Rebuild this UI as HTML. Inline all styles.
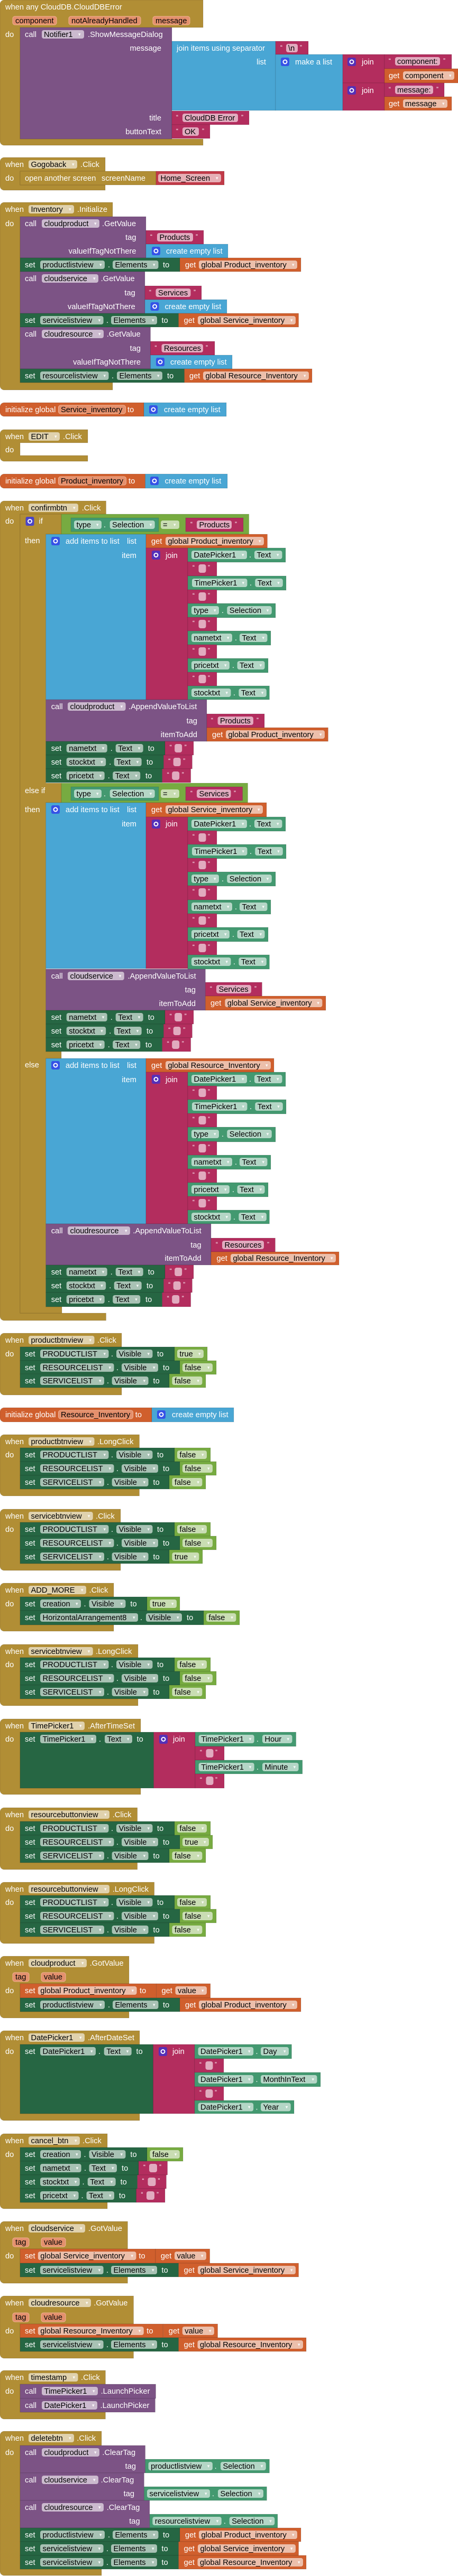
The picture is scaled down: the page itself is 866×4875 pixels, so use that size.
<!DOCTYPE html>
<html><head><meta charset="utf-8"><style>
html,body{margin:0;padding:0;background:#fff}
svg{display:block}
text{font-family:"Liberation Sans",Arial,sans-serif;font-size:14.67px;fill:#fff}
.k{fill:#000}
.q{font-size:12px}
.ar{font-size:9px;fill:#fff;opacity:.9}
.e{text-anchor:end}
.ev,.cl,.st,.gt,.tx,.ls,.vr,.lg,.sc{stroke:rgba(0,0,0,.13);stroke-width:1}
.ev{fill:#B18E35}.cl{fill:#7C5385}.st{fill:#266643}.gt{fill:#439970}.tx{fill:#B32D5E}.ls{fill:#49A6D4}.vr{fill:#D05F2D}.lg{fill:#77AB41}.sc{fill:#C13A48}
.fev{fill:#E0D2AE}.fcl{fill:#CBBACE}.fst{fill:#A8C2B4}.fgt{fill:#B4D6C6}.fvr{fill:#ECBFAB}.ftx{fill:#E1ABBF}.flg{fill:#C9DDB3}.fsc{fill:#E6AFB6}
.pm{fill:#E4906D;stroke:#F0B395;stroke-width:1}
.gl{fill:#3552E6}.gj{fill:#5530B8}.gi{fill:#4A45C8}
.gc{fill:none;stroke:#fff;stroke-width:2}
</style></head><body>
<svg xmlns="http://www.w3.org/2000/svg" width="866" height="4875" viewBox="0 0 866 4875">

<!-- ===== A: CloudDBError ===== -->
<path class="ev" d="M0 8a8 8 0 0 1 8-8H384V52H38V263H384V275H8a8 8 0 0 1-8-8Z"/>
<text x="10" y="18">when any CloudDB.CloudDBError</text>
<rect class="pm" x="24" y="31" width="83" height="16" rx="4"/><text class="k" x="29" y="44">component</text>
<rect class="pm" x="130" y="31" width="136" height="16" rx="4"/><text class="k" x="135" y="44">notAlreadyHandled</text>
<rect class="pm" x="289" y="31" width="70" height="16" rx="4"/><text class="k" x="294" y="44">message</text>
<text x="10" y="70">do</text>
<rect class="cl" x="38" y="52" width="287" height="211"/>
<text x="47" y="70">call</text>
<rect class="fcl" x="79" y="57" width="80" height="16" rx="4"/><text class="k" x="83" y="70">Notifier1</text><text class="ar" x="148" y="68">▾</text>
<text x="166" y="70">.ShowMessageDialog</text>
<text class="e" x="305" y="96">message</text>
<text class="e" x="305" y="228">title</text>
<text class="e" x="305" y="254">buttonText</text>
<rect class="ls" x="325" y="78" width="196" height="131"/>
<text x="334" y="96">join items using separator</text>
<text class="e" x="503" y="122">list</text>
<rect class="tx" x="521" y="78" width="62" height="25"/>
<text class="q" x="530" y="94">“</text><rect class="ftx" x="541" y="83" width="22" height="16" rx="4"/><text class="k" x="545" y="96">\n</text><text class="q" x="567" y="94">”</text>
<rect class="ls" x="521" y="103" width="127" height="106"/>
<rect class="gl" x="531" y="109" width="16" height="16" rx="3"/><circle class="gc" cx="539" cy="117" r="3.5"/>
<text x="558" y="122">make a list</text>
<rect class="tx" x="648" y="103" width="79" height="54"/>
<rect class="gj" x="657" y="109" width="16" height="16" rx="3"/><circle class="gc" cx="665" cy="117" r="3.5"/>
<text x="684" y="122">join</text>
<rect class="tx" x="727" y="103" width="127" height="27"/>
<text class="q" x="735" y="119">“</text><rect class="ftx" x="747" y="108" width="85" height="16" rx="4"/><text class="k" x="751" y="121">component:</text><text class="q" x="838" y="119">”</text>
<rect class="vr" x="727" y="130" width="139" height="27"/>
<text x="735" y="148">get</text><rect class="fvr" x="762" y="135" width="97" height="16" rx="4"/><text class="k" x="766" y="148">component</text><text class="ar" x="849" y="146">▾</text>
<rect class="tx" x="648" y="157" width="79" height="52"/>
<rect class="gj" x="657" y="163" width="16" height="16" rx="3"/><circle class="gc" cx="665" cy="171" r="3.5"/>
<text x="684" y="176">join</text>
<rect class="tx" x="727" y="157" width="113" height="26"/>
<text class="q" x="735" y="173">“</text><rect class="ftx" x="747" y="162" width="72" height="16" rx="4"/><text class="k" x="751" y="175">message:</text><text class="q" x="825" y="173">”</text>
<rect class="vr" x="727" y="183" width="127" height="26"/>
<text x="735" y="201">get</text><rect class="fvr" x="762" y="188" width="84" height="16" rx="4"/><text class="k" x="766" y="201">message</text><text class="ar" x="836" y="199">▾</text>
<rect class="tx" x="325" y="210" width="146" height="26"/>
<text class="q" x="333" y="226">“</text><rect class="ftx" x="345" y="215" width="105" height="16" rx="4"/><text class="k" x="349" y="228">CloudDB Error</text><text class="q" x="456" y="226">”</text>
<rect class="tx" x="325" y="236" width="72" height="26"/>
<text class="q" x="333" y="252">“</text><rect class="ftx" x="345" y="241" width="31" height="16" rx="4"/><text class="k" x="349" y="254">OK</text><text class="q" x="382" y="252">”</text>

<!-- ===== B: Gogoback ===== -->
<path class="ev" d="M0 306a8 8 0 0 1 8-8H199V324H38V350H199V360H8a8 8 0 0 1-8-8Z"/>
<text x="10" y="316">when</text>
<rect class="fev" x="54" y="303" width="92" height="16" rx="4"/><text class="k" x="58.5" y="316">Gogoback</text><text class="ar" x="136" y="314">▾</text>
<text x="152" y="316">.Click</text>
<text x="10" y="342">do</text>
<rect class="ev" x="38" y="324" width="257" height="26"/>
<text x="47" y="342">open another screen</text><text x="192" y="342">screenName</text>
<rect class="sc" x="295" y="324" width="129" height="26"/>
<rect class="fsc" x="299" y="329" width="119" height="16" rx="4"/><text class="k" x="303.5" y="342">Home_Screen</text><text class="ar" x="408" y="340">▾</text>

<!-- ===== C: Inventory.Initialize ===== -->
<path class="ev" d="M0 391a8 8 0 0 1 8-8H213V410H38V724H213V738H8a8 8 0 0 1-8-8Z"/>
<text x="10" y="401">when</text>
<rect class="fev" x="54" y="388" width="86" height="16" rx="4"/><text class="k" x="58.5" y="401">Inventory</text><text class="ar" x="130" y="399">▾</text>
<text x="146" y="401">.Initialize</text>
<text x="10" y="428">do</text>
<rect class="cl" x="38" y="410" width="238" height="78"/>
<text x="47" y="428">call</text>
<rect class="fcl" x="79" y="415" width="109" height="16" rx="4"/><text class="k" x="83.5" y="428">cloudproduct</text><text class="ar" x="178" y="426">▾</text>
<text x="193" y="428">.GetValue</text>
<text class="e" x="257.5" y="454">tag</text>
<text class="e" x="257.5" y="480">valueIfTagNotThere</text>
<rect class="tx" x="276" y="436" width="109" height="26"/>
<text class="q" x="284" y="452">“</text><rect class="ftx" x="297" y="441" width="68" height="16" rx="4"/><text class="k" x="301.5" y="454">Products</text><text class="q" x="370" y="452">”</text>
<rect class="ls" x="276" y="462" width="155" height="26"/>
<rect class="gl" x="287" y="467" width="16" height="16" rx="3"/><circle class="gc" cx="295" cy="475" r="3.5"/>
<text x="314" y="480">create empty list</text>
<g transform="translate(38,488)"><rect class="st" width="302" height="26"/><text x="9" y="18">set</text><rect class="fst" x="38" y="5" width="122" height="16" rx="4"/><text class="k" x="42.5" y="18">productlistview</text><text class="ar" x="150" y="16">▾</text><text x="166" y="18">.</text><rect class="fst" x="175" y="5" width="86.5" height="16" rx="4"/><text class="k" x="179.5" y="18">Elements</text><text class="ar" x="251" y="16">▾</text><text x="270" y="18">to</text><rect class="vr" x="302" width="229" height="26"/><text x="312" y="18">get</text><rect class="fvr" x="338" y="5" width="186" height="16" rx="4"/><text class="k" x="342.5" y="18">global Product_inventory</text><text class="ar" x="514" y="16">▾</text></g>
<rect class="cl" x="38" y="514" width="236" height="79"/>
<text x="47" y="532">call</text>
<rect class="fcl" x="79" y="519" width="107" height="16" rx="4"/><text class="k" x="83.5" y="532">cloudservice</text><text class="ar" x="176" y="530">▾</text>
<text x="190.6" y="532">.GetValue</text>
<text class="e" x="255.8" y="559">tag</text>
<text class="e" x="255.8" y="585">valueIfTagNotThere</text>
<rect class="tx" x="274" y="541" width="107" height="26"/>
<text class="q" x="282" y="557">“</text><rect class="ftx" x="294.5" y="546" width="66" height="16" rx="4"/><text class="k" x="299" y="559">Services</text><text class="q" x="366" y="557">”</text>
<rect class="ls" x="274" y="567" width="155" height="26"/>
<rect class="gl" x="284.6" y="572" width="16" height="16" rx="3"/><circle class="gc" cx="292.6" cy="580" r="3.5"/>
<text x="311.6" y="585">create empty list</text>
<g transform="translate(38,593)"><rect class="st" width="299.6" height="26"/><text x="9" y="18">set</text><rect class="fst" x="38" y="5" width="119.6" height="16" rx="4"/><text class="k" x="42.5" y="18">servicelistview</text><text class="ar" x="147.6" y="16">▾</text><text x="163" y="18">.</text><rect class="fst" x="172" y="5" width="87" height="16" rx="4"/><text class="k" x="176.5" y="18">Elements</text><text class="ar" x="249" y="16">▾</text><text x="267.5" y="18">to</text><rect class="vr" x="299.6" width="227" height="26"/><text x="309.6" y="18">get</text><rect class="fvr" x="336" y="5" width="185" height="16" rx="4"/><text class="k" x="340.5" y="18">global Service_inventory</text><text class="ar" x="511" y="16">▾</text></g>
<rect class="cl" x="38" y="619" width="246.5" height="79"/>
<text x="47" y="637">call</text>
<rect class="fcl" x="79" y="624" width="117" height="16" rx="4"/><text class="k" x="83.5" y="637">cloudresource</text><text class="ar" x="186" y="635">▾</text>
<text x="201.7" y="637">.GetValue</text>
<text class="e" x="266" y="664">tag</text>
<text class="e" x="266" y="690">valueIfTagNotThere</text>
<rect class="tx" x="284.5" y="646" width="121.5" height="26"/>
<text class="q" x="292.5" y="662">“</text><rect class="ftx" x="305.5" y="651" width="78.5" height="16" rx="4"/><text class="k" x="310" y="664">Resources</text><text class="q" x="389" y="662">”</text>
<rect class="ls" x="284.5" y="672" width="154.5" height="26"/>
<rect class="gl" x="295" y="677" width="16" height="16" rx="3"/><circle class="gc" cx="303" cy="685" r="3.5"/>
<text x="322" y="690">create empty list</text>
<g transform="translate(38,698)"><rect class="st" width="310.6" height="26"/><text x="9" y="18">set</text><rect class="fst" x="38" y="5" width="129.5" height="16" rx="4"/><text class="k" x="42.5" y="18">resourcelistview</text><text class="ar" x="157.5" y="16">▾</text><text x="173" y="18">.</text><rect class="fst" x="183" y="5" width="86" height="16" rx="4"/><text class="k" x="187.5" y="18">Elements</text><text class="ar" x="259" y="16">▾</text><text x="278" y="18">to</text><rect class="vr" x="310.6" width="241.4" height="26"/><text x="320" y="18">get</text><rect class="fvr" x="346" y="5" width="200" height="16" rx="4"/><text class="k" x="350.5" y="18">global Resource_Inventory</text><text class="ar" x="536" y="16">▾</text></g>

<!-- ===== D: init Service_inventory ===== -->
<path class="vr" d="M0 770a8 8 0 0 1 8-8H272V788H8a8 8 0 0 1-8-8Z"/>
<text x="10" y="780">initialize global</text>
<rect class="pm" x="110.5" y="767" width="127" height="16" rx="4"/><text class="k" x="115" y="780">Service_inventory</text>
<text x="241" y="780">to</text>
<rect class="ls" x="272" y="762" width="156" height="26"/>
<rect class="gl" x="282" y="767" width="16" height="16" rx="3"/><circle class="gc" cx="290" cy="775" r="3.5"/>
<text x="310" y="780">create empty list</text>

<!-- ===== E: EDIT.Click ===== -->
<path class="ev" d="M0 821a8 8 0 0 1 8-8H166V838H38V862H166V873H8a8 8 0 0 1-8-8Z"/>
<text x="10" y="831">when</text>
<rect class="fev" x="54" y="818" width="59" height="16" rx="4"/><text class="k" x="58.5" y="831">EDIT</text><text class="ar" x="103" y="829">▾</text>
<text x="119" y="831">.Click</text>
<text x="10" y="856">do</text>

<!-- ===== F: init Product_inventory ===== -->
<path class="vr" d="M0 905a8 8 0 0 1 8-8H274.6V924H8a8 8 0 0 1-8-8Z"/>
<text x="10" y="915">initialize global</text>
<rect class="pm" x="110.5" y="902" width="128" height="16" rx="4"/><text class="k" x="115" y="915">Product_inventory</text>
<text x="243" y="915">to</text>
<rect class="ls" x="274.6" y="897" width="155.4" height="27"/>
<rect class="gl" x="284" y="902" width="16" height="16" rx="3"/><circle class="gc" cx="292" cy="910" r="3.5"/>
<text x="311.6" y="915">create empty list</text>

<!-- ===== G: confirmbtn.Click ===== -->
<path class="ev" d="M0 956a8 8 0 0 1 8-8H200.5V973H38V2485H200.5V2499H8a8 8 0 0 1-8-8Z"/>
<text x="10" y="966">when</text>
<rect class="fev" x="54" y="953" width="94" height="16" rx="4"/><text class="k" x="58.5" y="966">confirmbtn</text><text class="ar" x="138" y="964">▾</text>
<text x="154.7" y="966">.Click</text>
<text x="10" y="991">do</text>
<path class="ev" d="M38 973H116V1011H86.7V1482H116V1519H86.7V1990H116V2003H86.7V2473H117V2485H38Z"/>
<rect class="gi" x="48.5" y="978" width="16" height="17" rx="3"/><circle class="gc" cx="56.5" cy="986.5" r="3.5"/>
<text x="73.5" y="991">if</text>
<rect class="lg" x="116" y="973" width="354.7" height="38"/>
<g transform="translate(134,980)"><rect class="gt" width="166" height="26"/><rect class="fgt" x="6" y="5" width="52" height="16" rx="4"/><text class="k" x="10.5" y="18">type</text><text class="ar" x="48" y="16">▾</text><text x="62" y="18">.</text><rect class="fgt" x="73.7" y="5" width="85" height="16" rx="4"/><text class="k" x="78" y="18">Selection</text><text class="ar" x="148.7" y="16">▾</text></g>
<rect class="flg" x="304" y="985" width="35" height="16" rx="4"/><text class="k" x="308" y="998">=</text><text class="ar" x="328" y="996">▾</text>
<rect class="tx" x="351" y="980" width="109" height="26"/>
<text class="q" x="360" y="996">“</text><rect class="ftx" x="372" y="985" width="66" height="16" rx="4"/><text class="k" x="376.5" y="998">Products</text><text class="q" x="444" y="996">”</text>
<text x="47" y="1028">then</text>
<rect class="ls" x="86.7" y="1011" width="189.3" height="313"/>
<rect class="gl" x="97" y="1016" width="16" height="16" rx="3"/><circle class="gc" cx="105" cy="1024" r="3.5"/>
<text x="124" y="1029">add items to list</text>
<text class="e" x="258" y="1029">list</text>
<text class="e" x="258" y="1056">item</text>
<rect class="vr" x="276" y="1011" width="229.5" height="26"/>
<text x="286" y="1029">get</text><rect class="fvr" x="313" y="1016" width="186" height="16" rx="4"/><text class="k" x="317.5" y="1029">global Product_inventory</text><text class="ar" x="489" y="1027">▾</text>
<rect class="tx" x="276" y="1037" width="79" height="287"/>
<rect class="gj" x="287" y="1042" width="16" height="17" rx="3"/><circle class="gc" cx="295" cy="1050.5" r="3.5"/>
<text x="313" y="1056">join</text>
<g transform="translate(355,1037)"><rect class="gt" width="185" height="27"/><rect class="fgt" x="7" y="5" width="105" height="16" rx="4"/><text class="k" x="11.5" y="18">DatePicker1</text><text class="ar" x="102" y="16">▾</text><text x="116" y="18">.</text><rect class="fgt" x="126" y="5" width="52.5" height="16" rx="4"/><text class="k" x="130.5" y="18">Text</text><text class="ar" x="168" y="16">▾</text></g>
<g transform="translate(355,1063)"><rect class="tx" width="55" height="27"/><text class="q" x="9" y="15">“</text><rect class="ftx" x="20.5" y="5" width="14" height="16" rx="4"/><text class="q" x="38" y="15">”</text></g>
<g transform="translate(355,1090)"><rect class="gt" width="186" height="27"/><rect class="fgt" x="8" y="5" width="104.5" height="16" rx="4"/><text class="k" x="12.5" y="18">TimePicker1</text><text class="ar" x="102.5" y="16">▾</text><text x="117" y="18">.</text><rect class="fgt" x="127.3" y="5" width="52.5" height="16" rx="4"/><text class="k" x="131.8" y="18">Text</text><text class="ar" x="169.3" y="16">▾</text></g>
<g transform="translate(355,1116)"><rect class="tx" width="55" height="27"/><text class="q" x="9" y="15">“</text><rect class="ftx" x="20.5" y="5" width="14" height="16" rx="4"/><text class="q" x="38" y="15">”</text></g>
<g transform="translate(355,1142)"><rect class="gt" width="166" height="27"/><rect class="fgt" x="7" y="5" width="52" height="16" rx="4"/><text class="k" x="11.5" y="18">type</text><text class="ar" x="49" y="16">▾</text><text x="64" y="18">.</text><rect class="fgt" x="74.3" y="5" width="84.5" height="16" rx="4"/><text class="k" x="78.8" y="18">Selection</text><text class="ar" x="148.8" y="16">▾</text></g>
<g transform="translate(355,1168)"><rect class="tx" width="55" height="27"/><text class="q" x="9" y="15">“</text><rect class="ftx" x="20.5" y="5" width="14" height="16" rx="4"/><text class="q" x="38" y="15">”</text></g>
<g transform="translate(355,1194)"><rect class="gt" width="157" height="27"/><rect class="fgt" x="7" y="5" width="77" height="16" rx="4"/><text class="k" x="11.5" y="18">nametxt</text><text class="ar" x="74" y="16">▾</text><text x="89" y="18">.</text><rect class="fgt" x="98" y="5" width="52.5" height="16" rx="4"/><text class="k" x="102.5" y="18">Text</text><text class="ar" x="140.5" y="16">▾</text></g>
<g transform="translate(355,1220)"><rect class="tx" width="55" height="27"/><text class="q" x="9" y="15">“</text><rect class="ftx" x="20.5" y="5" width="14" height="16" rx="4"/><text class="q" x="38" y="15">”</text></g>
<g transform="translate(355,1246)"><rect class="gt" width="152" height="27"/><rect class="fgt" x="7" y="5" width="72" height="16" rx="4"/><text class="k" x="11.5" y="18">pricetxt</text><text class="ar" x="69" y="16">▾</text><text x="84" y="18">.</text><rect class="fgt" x="93.6" y="5" width="52" height="16" rx="4"/><text class="k" x="98" y="18">Text</text><text class="ar" x="135.6" y="16">▾</text></g>
<g transform="translate(355,1272)"><rect class="tx" width="55" height="27"/><text class="q" x="9" y="15">“</text><rect class="ftx" x="20.5" y="5" width="14" height="16" rx="4"/><text class="q" x="38" y="15">”</text></g>
<g transform="translate(355,1298)"><rect class="gt" width="154.4" height="26"/><rect class="fgt" x="7" y="5" width="74.5" height="16" rx="4"/><text class="k" x="11.5" y="18">stocktxt</text><text class="ar" x="71.5" y="16">▾</text><text x="86" y="18">.</text><rect class="fgt" x="96.4" y="5" width="52.5" height="16" rx="4"/><text class="k" x="100.9" y="18">Text</text><text class="ar" x="138.9" y="16">▾</text></g>
<rect class="cl" x="86.7" y="1324" width="304.3" height="79"/>
<text x="96.7" y="1342">call</text>
<rect class="fcl" x="128" y="1329" width="109.6" height="16" rx="4"/><text class="k" x="132.5" y="1342">cloudproduct</text><text class="ar" x="227.6" y="1340">▾</text>
<text x="243" y="1342">.AppendValueToList</text>
<text class="e" x="373" y="1369">tag</text>
<text class="e" x="373" y="1395">itemToAdd</text>
<rect class="tx" x="391" y="1351" width="109" height="26"/>
<text class="q" x="399" y="1367">“</text><rect class="ftx" x="411.6" y="1356" width="67.4" height="16" rx="4"/><text class="k" x="416" y="1369">Products</text><text class="q" x="485" y="1367">”</text>
<rect class="vr" x="391" y="1377" width="229.4" height="26"/>
<text x="401" y="1395">get</text><rect class="fvr" x="427" y="1382" width="187" height="16" rx="4"/><text class="k" x="431.5" y="1395">global Product_inventory</text><text class="ar" x="604" y="1393">▾</text>
<g transform="translate(86.7,1403)"><rect class="st" width="225.3" height="26"/><text x="10" y="18">set</text><rect class="fst" x="39" y="5" width="77" height="16" rx="4"/><text class="k" x="43.5" y="18">nametxt</text><text class="ar" x="106" y="16">▾</text><text x="122" y="18">.</text><rect class="fst" x="132" y="5" width="52" height="16" rx="4"/><text class="k" x="136.5" y="18">Text</text><text class="ar" x="174" y="16">▾</text><text x="193" y="18">to</text><rect class="tx" x="225.3" width="54" height="26"/><text class="q" x="234" y="15">“</text><rect class="ftx" x="243.5" y="5" width="14" height="16" rx="4"/><text class="q" x="262" y="15">”</text></g>
<g transform="translate(86.7,1429)"><rect class="st" width="222.7" height="26"/><text x="10" y="18">set</text><rect class="fst" x="39" y="5" width="74.5" height="16" rx="4"/><text class="k" x="43.5" y="18">stocktxt</text><text class="ar" x="103.5" y="16">▾</text><text x="119.5" y="18">.</text><rect class="fst" x="129" y="5" width="52" height="16" rx="4"/><text class="k" x="133.5" y="18">Text</text><text class="ar" x="171" y="16">▾</text><text x="190.3" y="18">to</text><rect class="tx" x="222.7" width="54" height="26"/><text class="q" x="231.5" y="15">“</text><rect class="ftx" x="241" y="5" width="14" height="16" rx="4"/><text class="q" x="259.5" y="15">”</text></g>
<g transform="translate(86.7,1455)"><rect class="st" width="220" height="26"/><text x="10" y="18">set</text><rect class="fst" x="39" y="5" width="72" height="16" rx="4"/><text class="k" x="43.5" y="18">pricetxt</text><text class="ar" x="101" y="16">▾</text><text x="117" y="18">.</text><rect class="fst" x="126.5" y="5" width="52" height="16" rx="4"/><text class="k" x="131" y="18">Text</text><text class="ar" x="168.5" y="16">▾</text><text x="188.3" y="18">to</text><rect class="tx" x="220" width="54" height="26"/><text class="q" x="229" y="15">“</text><rect class="ftx" x="238.5" y="5" width="14" height="16" rx="4"/><text class="q" x="257" y="15">”</text></g>
<text x="47" y="1501">else if</text>
<rect class="lg" x="116" y="1482" width="352.5" height="37"/>
<g transform="translate(134,1489)"><rect class="gt" width="166" height="26"/><rect class="fgt" x="6" y="5" width="52" height="16" rx="4"/><text class="k" x="10.5" y="18">type</text><text class="ar" x="48" y="16">▾</text><text x="62" y="18">.</text><rect class="fgt" x="73.7" y="5" width="85" height="16" rx="4"/><text class="k" x="78" y="18">Selection</text><text class="ar" x="148.7" y="16">▾</text></g>
<rect class="flg" x="304" y="1494" width="35" height="16" rx="4"/><text class="k" x="308" y="1507">=</text><text class="ar" x="328" y="1505">▾</text>
<rect class="tx" x="351" y="1489" width="107.6" height="26"/>
<text class="q" x="360" y="1505">“</text><rect class="ftx" x="372" y="1494" width="64.5" height="16" rx="4"/><text class="k" x="376.5" y="1507">Services</text><text class="q" x="442" y="1505">”</text>
<text x="47" y="1537">then</text>
<rect class="ls" x="86.7" y="1519" width="189.3" height="314"/>
<rect class="gl" x="97" y="1524" width="16" height="16" rx="3"/><circle class="gc" cx="105" cy="1532" r="3.5"/>
<text x="124" y="1537">add items to list</text>
<text class="e" x="258" y="1537">list</text>
<text class="e" x="258" y="1564">item</text>
<rect class="vr" x="276" y="1519" width="228" height="27"/>
<text x="286" y="1537">get</text><rect class="fvr" x="313" y="1524" width="184" height="16" rx="4"/><text class="k" x="317.5" y="1537">global Service_inventory</text><text class="ar" x="487" y="1535">▾</text>
<rect class="tx" x="276" y="1546" width="79" height="287"/>
<rect class="gj" x="287" y="1551" width="16" height="17" rx="3"/><circle class="gc" cx="295" cy="1559.5" r="3.5"/>
<text x="313" y="1564">join</text>
<g transform="translate(355,1546)"><rect class="gt" width="185" height="27"/><rect class="fgt" x="7" y="5" width="105" height="16" rx="4"/><text class="k" x="11.5" y="18">DatePicker1</text><text class="ar" x="102" y="16">▾</text><text x="116" y="18">.</text><rect class="fgt" x="126" y="5" width="52.5" height="16" rx="4"/><text class="k" x="130.5" y="18">Text</text><text class="ar" x="168" y="16">▾</text></g>
<g transform="translate(355,1572)"><rect class="tx" width="55" height="27"/><text class="q" x="9" y="15">“</text><rect class="ftx" x="20.5" y="5" width="14" height="16" rx="4"/><text class="q" x="38" y="15">”</text></g>
<g transform="translate(355,1598)"><rect class="gt" width="186" height="27"/><rect class="fgt" x="8" y="5" width="104.5" height="16" rx="4"/><text class="k" x="12.5" y="18">TimePicker1</text><text class="ar" x="102.5" y="16">▾</text><text x="117" y="18">.</text><rect class="fgt" x="127.3" y="5" width="52.5" height="16" rx="4"/><text class="k" x="131.8" y="18">Text</text><text class="ar" x="169.3" y="16">▾</text></g>
<g transform="translate(355,1624)"><rect class="tx" width="55" height="27"/><text class="q" x="9" y="15">“</text><rect class="ftx" x="20.5" y="5" width="14" height="16" rx="4"/><text class="q" x="38" y="15">”</text></g>
<g transform="translate(355,1650)"><rect class="gt" width="166" height="27"/><rect class="fgt" x="7" y="5" width="52" height="16" rx="4"/><text class="k" x="11.5" y="18">type</text><text class="ar" x="49" y="16">▾</text><text x="64" y="18">.</text><rect class="fgt" x="74.3" y="5" width="84.5" height="16" rx="4"/><text class="k" x="78.8" y="18">Selection</text><text class="ar" x="148.8" y="16">▾</text></g>
<g transform="translate(355,1676)"><rect class="tx" width="55" height="28"/><text class="q" x="9" y="15">“</text><rect class="ftx" x="20.5" y="5" width="14" height="16" rx="4"/><text class="q" x="38" y="15">”</text></g>
<g transform="translate(355,1703)"><rect class="gt" width="157" height="27"/><rect class="fgt" x="7" y="5" width="77" height="16" rx="4"/><text class="k" x="11.5" y="18">nametxt</text><text class="ar" x="74" y="16">▾</text><text x="89" y="18">.</text><rect class="fgt" x="98" y="5" width="52.5" height="16" rx="4"/><text class="k" x="102.5" y="18">Text</text><text class="ar" x="140.5" y="16">▾</text></g>
<g transform="translate(355,1729)"><rect class="tx" width="55" height="27"/><text class="q" x="9" y="15">“</text><rect class="ftx" x="20.5" y="5" width="14" height="16" rx="4"/><text class="q" x="38" y="15">”</text></g>
<g transform="translate(355,1755)"><rect class="gt" width="152" height="27"/><rect class="fgt" x="7" y="5" width="72" height="16" rx="4"/><text class="k" x="11.5" y="18">pricetxt</text><text class="ar" x="69" y="16">▾</text><text x="84" y="18">.</text><rect class="fgt" x="93.6" y="5" width="52" height="16" rx="4"/><text class="k" x="98" y="18">Text</text><text class="ar" x="135.6" y="16">▾</text></g>
<g transform="translate(355,1781)"><rect class="tx" width="55" height="27"/><text class="q" x="9" y="15">“</text><rect class="ftx" x="20.5" y="5" width="14" height="16" rx="4"/><text class="q" x="38" y="15">”</text></g>
<g transform="translate(355,1807)"><rect class="gt" width="154.4" height="27"/><rect class="fgt" x="7" y="5" width="74.5" height="16" rx="4"/><text class="k" x="11.5" y="18">stocktxt</text><text class="ar" x="71.5" y="16">▾</text><text x="86" y="18">.</text><rect class="fgt" x="96.4" y="5" width="52.5" height="16" rx="4"/><text class="k" x="100.9" y="18">Text</text><text class="ar" x="138.9" y="16">▾</text></g>
<rect class="cl" x="86.7" y="1834" width="301.7" height="78"/>
<text x="96.7" y="1852">call</text>
<rect class="fcl" x="128" y="1839" width="106.8" height="16" rx="4"/><text class="k" x="132.5" y="1852">cloudservice</text><text class="ar" x="224.8" y="1850">▾</text>
<text x="241.4" y="1852">.AppendValueToList</text>
<text class="e" x="370" y="1878">tag</text>
<text class="e" x="370" y="1904">itemToAdd</text>
<rect class="tx" x="388.4" y="1859" width="107" height="26"/>
<text class="q" x="397" y="1875">“</text><rect class="ftx" x="409" y="1864" width="66" height="16" rx="4"/><text class="k" x="413.5" y="1877">Services</text><text class="q" x="481" y="1875">”</text>
<rect class="vr" x="388.4" y="1885" width="227.6" height="27"/>
<text x="398" y="1903">get</text><rect class="fvr" x="425.4" y="1890" width="184" height="16" rx="4"/><text class="k" x="429.9" y="1903">global Service_inventory</text><text class="ar" x="599.4" y="1901">▾</text>
<g transform="translate(86.7,1912)"><rect class="st" width="225.3" height="26"/><text x="10" y="18">set</text><rect class="fst" x="39" y="5" width="77" height="16" rx="4"/><text class="k" x="43.5" y="18">nametxt</text><text class="ar" x="106" y="16">▾</text><text x="122" y="18">.</text><rect class="fst" x="132" y="5" width="52" height="16" rx="4"/><text class="k" x="136.5" y="18">Text</text><text class="ar" x="174" y="16">▾</text><text x="193" y="18">to</text><rect class="tx" x="225.3" width="54" height="26"/><text class="q" x="234" y="15">“</text><rect class="ftx" x="243.5" y="5" width="14" height="16" rx="4"/><text class="q" x="262" y="15">”</text></g>
<g transform="translate(86.7,1938)"><rect class="st" width="222.7" height="26"/><text x="10" y="18">set</text><rect class="fst" x="39" y="5" width="74.5" height="16" rx="4"/><text class="k" x="43.5" y="18">stocktxt</text><text class="ar" x="103.5" y="16">▾</text><text x="119.5" y="18">.</text><rect class="fst" x="129" y="5" width="52" height="16" rx="4"/><text class="k" x="133.5" y="18">Text</text><text class="ar" x="171" y="16">▾</text><text x="190.3" y="18">to</text><rect class="tx" x="222.7" width="54" height="26"/><text class="q" x="231.5" y="15">“</text><rect class="ftx" x="241" y="5" width="14" height="16" rx="4"/><text class="q" x="259.5" y="15">”</text></g>
<g transform="translate(86.7,1964)"><rect class="st" width="220" height="26"/><text x="10" y="18">set</text><rect class="fst" x="39" y="5" width="72" height="16" rx="4"/><text class="k" x="43.5" y="18">pricetxt</text><text class="ar" x="101" y="16">▾</text><text x="117" y="18">.</text><rect class="fst" x="126.5" y="5" width="52" height="16" rx="4"/><text class="k" x="131" y="18">Text</text><text class="ar" x="168.5" y="16">▾</text><text x="188.3" y="18">to</text><rect class="tx" x="220" width="54" height="26"/><text class="q" x="229" y="15">“</text><rect class="ftx" x="238.5" y="5" width="14" height="16" rx="4"/><text class="q" x="257" y="15">”</text></g>
<text x="47" y="2020">else</text>
<rect class="ls" x="86.7" y="2003" width="189.3" height="313"/>
<rect class="gl" x="97" y="2008" width="16" height="16" rx="3"/><circle class="gc" cx="105" cy="2016" r="3.5"/>
<text x="124" y="2021">add items to list</text>
<text class="e" x="258" y="2021">list</text>
<text class="e" x="258" y="2048">item</text>
<rect class="vr" x="276" y="2003" width="242" height="26"/>
<text x="286" y="2021">get</text><rect class="fvr" x="313" y="2008" width="199" height="16" rx="4"/><text class="k" x="317.5" y="2021">global Resource_Inventory</text><text class="ar" x="502" y="2019">▾</text>
<rect class="tx" x="276" y="2029" width="79" height="287"/>
<rect class="gj" x="287" y="2034" width="16" height="17" rx="3"/><circle class="gc" cx="295" cy="2042.5" r="3.5"/>
<text x="313" y="2048">join</text>
<g transform="translate(355,2029)"><rect class="gt" width="185" height="27"/><rect class="fgt" x="7" y="5" width="105" height="16" rx="4"/><text class="k" x="11.5" y="18">DatePicker1</text><text class="ar" x="102" y="16">▾</text><text x="116" y="18">.</text><rect class="fgt" x="126" y="5" width="52.5" height="16" rx="4"/><text class="k" x="130.5" y="18">Text</text><text class="ar" x="168" y="16">▾</text></g>
<g transform="translate(355,2055)"><rect class="tx" width="55" height="27"/><text class="q" x="9" y="15">“</text><rect class="ftx" x="20.5" y="5" width="14" height="16" rx="4"/><text class="q" x="38" y="15">”</text></g>
<g transform="translate(355,2081)"><rect class="gt" width="186" height="27"/><rect class="fgt" x="8" y="5" width="104.5" height="16" rx="4"/><text class="k" x="12.5" y="18">TimePicker1</text><text class="ar" x="102.5" y="16">▾</text><text x="117" y="18">.</text><rect class="fgt" x="127.3" y="5" width="52.5" height="16" rx="4"/><text class="k" x="131.8" y="18">Text</text><text class="ar" x="169.3" y="16">▾</text></g>
<g transform="translate(355,2107)"><rect class="tx" width="55" height="27"/><text class="q" x="9" y="15">“</text><rect class="ftx" x="20.5" y="5" width="14" height="16" rx="4"/><text class="q" x="38" y="15">”</text></g>
<g transform="translate(355,2133)"><rect class="gt" width="166" height="28"/><rect class="fgt" x="7" y="5" width="52" height="16" rx="4"/><text class="k" x="11.5" y="18">type</text><text class="ar" x="49" y="16">▾</text><text x="64" y="18">.</text><rect class="fgt" x="74.3" y="5" width="84.5" height="16" rx="4"/><text class="k" x="78.8" y="18">Selection</text><text class="ar" x="148.8" y="16">▾</text></g>
<g transform="translate(355,2160)"><rect class="tx" width="55" height="27"/><text class="q" x="9" y="15">“</text><rect class="ftx" x="20.5" y="5" width="14" height="16" rx="4"/><text class="q" x="38" y="15">”</text></g>
<g transform="translate(355,2186)"><rect class="gt" width="157" height="27"/><rect class="fgt" x="7" y="5" width="77" height="16" rx="4"/><text class="k" x="11.5" y="18">nametxt</text><text class="ar" x="74" y="16">▾</text><text x="89" y="18">.</text><rect class="fgt" x="98" y="5" width="52.5" height="16" rx="4"/><text class="k" x="102.5" y="18">Text</text><text class="ar" x="140.5" y="16">▾</text></g>
<g transform="translate(355,2212)"><rect class="tx" width="55" height="27"/><text class="q" x="9" y="15">“</text><rect class="ftx" x="20.5" y="5" width="14" height="16" rx="4"/><text class="q" x="38" y="15">”</text></g>
<g transform="translate(355,2238)"><rect class="gt" width="152" height="27"/><rect class="fgt" x="7" y="5" width="72" height="16" rx="4"/><text class="k" x="11.5" y="18">pricetxt</text><text class="ar" x="69" y="16">▾</text><text x="84" y="18">.</text><rect class="fgt" x="93.6" y="5" width="52" height="16" rx="4"/><text class="k" x="98" y="18">Text</text><text class="ar" x="135.6" y="16">▾</text></g>
<g transform="translate(355,2264)"><rect class="tx" width="55" height="27"/><text class="q" x="9" y="15">“</text><rect class="ftx" x="20.5" y="5" width="14" height="16" rx="4"/><text class="q" x="38" y="15">”</text></g>
<g transform="translate(355,2290)"><rect class="gt" width="154.4" height="26"/><rect class="fgt" x="7" y="5" width="74.5" height="16" rx="4"/><text class="k" x="11.5" y="18">stocktxt</text><text class="ar" x="71.5" y="16">▾</text><text x="86" y="18">.</text><rect class="fgt" x="96.4" y="5" width="52.5" height="16" rx="4"/><text class="k" x="100.9" y="18">Text</text><text class="ar" x="138.9" y="16">▾</text></g>
<rect class="cl" x="86.7" y="2316" width="312.3" height="78"/>
<text x="96.7" y="2334">call</text>
<rect class="fcl" x="128" y="2321" width="118" height="16" rx="4"/><text class="k" x="132.5" y="2334">cloudresource</text><text class="ar" x="236" y="2332">▾</text>
<text x="251.4" y="2334">.AppendValueToList</text>
<text class="e" x="380.7" y="2361">tag</text>
<text class="e" x="380.7" y="2386">itemToAdd</text>
<rect class="tx" x="399" y="2343" width="121.4" height="26"/>
<text class="q" x="408" y="2359">“</text><rect class="ftx" x="420" y="2348" width="79" height="16" rx="4"/><text class="k" x="424.5" y="2361">Resources</text><text class="q" x="505" y="2359">”</text>
<rect class="vr" x="399" y="2369" width="242" height="25"/>
<text x="409.5" y="2386">get</text><rect class="fvr" x="436" y="2373" width="199" height="16" rx="4"/><text class="k" x="440.5" y="2386">global Resource_Inventory</text><text class="ar" x="625" y="2384">▾</text>
<g transform="translate(86.7,2394)"><rect class="st" width="225.3" height="26"/><text x="10" y="18">set</text><rect class="fst" x="39" y="5" width="77" height="16" rx="4"/><text class="k" x="43.5" y="18">nametxt</text><text class="ar" x="106" y="16">▾</text><text x="122" y="18">.</text><rect class="fst" x="132" y="5" width="52" height="16" rx="4"/><text class="k" x="136.5" y="18">Text</text><text class="ar" x="174" y="16">▾</text><text x="193" y="18">to</text><rect class="tx" x="225.3" width="54" height="26"/><text class="q" x="234" y="15">“</text><rect class="ftx" x="243.5" y="5" width="14" height="16" rx="4"/><text class="q" x="262" y="15">”</text></g>
<g transform="translate(86.7,2420)"><rect class="st" width="222.7" height="26"/><text x="10" y="18">set</text><rect class="fst" x="39" y="5" width="74.5" height="16" rx="4"/><text class="k" x="43.5" y="18">stocktxt</text><text class="ar" x="103.5" y="16">▾</text><text x="119.5" y="18">.</text><rect class="fst" x="129" y="5" width="52" height="16" rx="4"/><text class="k" x="133.5" y="18">Text</text><text class="ar" x="171" y="16">▾</text><text x="190.3" y="18">to</text><rect class="tx" x="222.7" width="54" height="26"/><text class="q" x="231.5" y="15">“</text><rect class="ftx" x="241" y="5" width="14" height="16" rx="4"/><text class="q" x="259.5" y="15">”</text></g>
<g transform="translate(86.7,2446)"><rect class="st" width="220" height="27"/><text x="10" y="18">set</text><rect class="fst" x="39" y="5" width="72" height="16" rx="4"/><text class="k" x="43.5" y="18">pricetxt</text><text class="ar" x="101" y="16">▾</text><text x="117" y="18">.</text><rect class="fst" x="126.5" y="5" width="52" height="16" rx="4"/><text class="k" x="131" y="18">Text</text><text class="ar" x="168.5" y="16">▾</text><text x="188.3" y="18">to</text><rect class="tx" x="220" width="54" height="27"/><text class="q" x="229" y="15">“</text><rect class="ftx" x="238.5" y="5" width="14" height="16" rx="4"/><text class="q" x="257" y="15">”</text></g>

<!-- ===== H: productbtnview.Click ===== -->
<path class="ev" d="M0 2531a8 8 0 0 1 8-8H230V2549H38V2626H230V2640H8a8 8 0 0 1-8-8Z"/>
<text x="10" y="2541">when</text>
<rect class="fev" x="54" y="2528" width="124.5" height="16" rx="4"/><text class="k" x="58.5" y="2541">productbtnview</text><text class="ar" x="168.5" y="2539">▾</text>
<text x="184" y="2541">.Click</text>
<text x="10" y="2567">do</text>
<g transform="translate(38,2549)"><rect class="st" width="292" height="26"/><text x="9" y="18">set</text><rect class="fst" x="38" y="5" width="129.5" height="16" rx="4"/><text class="k" x="42.5" y="18">PRODUCTLIST</text><text class="ar" x="157.5" y="16">▾</text><text x="172" y="18">.</text><rect class="fst" x="182" y="5" width="68.5" height="16" rx="4"/><text class="k" x="186.5" y="18">Visible</text><text class="ar" x="240.5" y="16">▾</text><text x="259" y="18">to</text><rect class="lg" x="292" width="62" height="26"/><rect class="flg" x="297" y="5" width="50" height="16" rx="4"/><text class="k" x="301.5" y="18">true</text><text class="ar" x="337" y="16">▾</text></g>
<g transform="translate(38,2575)"><rect class="st" width="302" height="26"/><text x="9" y="18">set</text><rect class="fst" x="38" y="5" width="139.5" height="16" rx="4"/><text class="k" x="42.5" y="18">RESOURCELIST</text><text class="ar" x="167.5" y="16">▾</text><text x="182" y="18">.</text><rect class="fst" x="192" y="5" width="69" height="16" rx="4"/><text class="k" x="196.5" y="18">Visible</text><text class="ar" x="251" y="16">▾</text><text x="270" y="18">to</text><rect class="lg" x="302" width="69" height="26"/><rect class="flg" x="307" y="5" width="57" height="16" rx="4"/><text class="k" x="311.5" y="18">false</text><text class="ar" x="354" y="16">▾</text></g>
<g transform="translate(38,2600)"><rect class="st" width="282" height="26"/><text x="9" y="18">set</text><rect class="fst" x="38" y="5" width="121" height="16" rx="4"/><text class="k" x="42.5" y="18">SERVICELIST</text><text class="ar" x="149" y="16">▾</text><text x="164" y="18">.</text><rect class="fst" x="173.6" y="5" width="69" height="16" rx="4"/><text class="k" x="178" y="18">Visible</text><text class="ar" x="232.6" y="16">▾</text><text x="251.5" y="18">to</text><rect class="lg" x="282" width="69" height="26"/><rect class="flg" x="287.4" y="5" width="57" height="16" rx="4"/><text class="k" x="292" y="18">false</text><text class="ar" x="334.4" y="16">▾</text></g>

<!-- ===== I: init Resource_Inventory ===== -->
<path class="vr" d="M0 2672a8 8 0 0 1 8-8H287V2691H8a8 8 0 0 1-8-8Z"/>
<text x="10" y="2682">initialize global</text>
<rect class="pm" x="110.5" y="2669" width="141" height="16" rx="4"/><text class="k" x="115" y="2682">Resource_Inventory</text>
<text x="255.8" y="2682">to</text>
<rect class="ls" x="287" y="2664" width="155" height="27"/>
<rect class="gl" x="297" y="2669" width="16" height="16" rx="3"/><circle class="gc" cx="305" cy="2677" r="3.5"/>
<text x="325" y="2682">create empty list</text>

<!-- ===== J: productbtnview.LongClick ===== -->
<path class="ev" d="M0 2723a8 8 0 0 1 8-8H263.5V2740H38V2818H263.5V2831H8a8 8 0 0 1-8-8Z"/>
<text x="10" y="2733">when</text>
<rect class="fev" x="54" y="2720" width="124.5" height="16" rx="4"/><text class="k" x="58.5" y="2733">productbtnview</text><text class="ar" x="168.5" y="2731">▾</text>
<text x="184" y="2733">.LongClick</text>
<text x="10" y="2758">do</text>
<g transform="translate(38,2740)"><rect class="st" width="292" height="26"/><text x="9" y="18">set</text><rect class="fst" x="38" y="5" width="129.5" height="16" rx="4"/><text class="k" x="42.5" y="18">PRODUCTLIST</text><text class="ar" x="157.5" y="16">▾</text><text x="172" y="18">.</text><rect class="fst" x="182" y="5" width="68.5" height="16" rx="4"/><text class="k" x="186.5" y="18">Visible</text><text class="ar" x="240.5" y="16">▾</text><text x="259" y="18">to</text><rect class="lg" x="292" width="68" height="26"/><rect class="flg" x="297" y="5" width="56" height="16" rx="4"/><text class="k" x="301.5" y="18">false</text><text class="ar" x="343" y="16">▾</text></g>
<g transform="translate(38,2766)"><rect class="st" width="302" height="26"/><text x="9" y="18">set</text><rect class="fst" x="38" y="5" width="139.5" height="16" rx="4"/><text class="k" x="42.5" y="18">RESOURCELIST</text><text class="ar" x="167.5" y="16">▾</text><text x="182" y="18">.</text><rect class="fst" x="192" y="5" width="69" height="16" rx="4"/><text class="k" x="196.5" y="18">Visible</text><text class="ar" x="251" y="16">▾</text><text x="270" y="18">to</text><rect class="lg" x="302" width="69" height="26"/><rect class="flg" x="307" y="5" width="57" height="16" rx="4"/><text class="k" x="311.5" y="18">false</text><text class="ar" x="354" y="16">▾</text></g>
<g transform="translate(38,2792)"><rect class="st" width="282" height="26"/><text x="9" y="18">set</text><rect class="fst" x="38" y="5" width="121" height="16" rx="4"/><text class="k" x="42.5" y="18">SERVICELIST</text><text class="ar" x="149" y="16">▾</text><text x="164" y="18">.</text><rect class="fst" x="173.6" y="5" width="69" height="16" rx="4"/><text class="k" x="178" y="18">Visible</text><text class="ar" x="232.6" y="16">▾</text><text x="251.5" y="18">to</text><rect class="lg" x="282" width="69" height="26"/><rect class="flg" x="287.4" y="5" width="57" height="16" rx="4"/><text class="k" x="292" y="18">false</text><text class="ar" x="334.4" y="16">▾</text></g>

<!-- ===== K: servicebtnview.Click ===== -->
<path class="ev" d="M0 2864a8 8 0 0 1 8-8H228V2881H38V2959H228V2972H8a8 8 0 0 1-8-8Z"/>
<text x="10" y="2874">when</text>
<rect class="fev" x="54" y="2861" width="121.7" height="16" rx="4"/><text class="k" x="58.5" y="2874">servicebtnview</text><text class="ar" x="165.7" y="2872">▾</text>
<text x="181" y="2874">.Click</text>
<text x="10" y="2899">do</text>
<g transform="translate(38,2881)"><rect class="st" width="292" height="26"/><text x="9" y="18">set</text><rect class="fst" x="38" y="5" width="129.5" height="16" rx="4"/><text class="k" x="42.5" y="18">PRODUCTLIST</text><text class="ar" x="157.5" y="16">▾</text><text x="172" y="18">.</text><rect class="fst" x="182" y="5" width="68.5" height="16" rx="4"/><text class="k" x="186.5" y="18">Visible</text><text class="ar" x="240.5" y="16">▾</text><text x="259" y="18">to</text><rect class="lg" x="292" width="68" height="26"/><rect class="flg" x="297" y="5" width="56" height="16" rx="4"/><text class="k" x="301.5" y="18">false</text><text class="ar" x="343" y="16">▾</text></g>
<g transform="translate(38,2907)"><rect class="st" width="302" height="26"/><text x="9" y="18">set</text><rect class="fst" x="38" y="5" width="139.5" height="16" rx="4"/><text class="k" x="42.5" y="18">RESOURCELIST</text><text class="ar" x="167.5" y="16">▾</text><text x="182" y="18">.</text><rect class="fst" x="192" y="5" width="69" height="16" rx="4"/><text class="k" x="196.5" y="18">Visible</text><text class="ar" x="251" y="16">▾</text><text x="270" y="18">to</text><rect class="lg" x="302" width="69" height="26"/><rect class="flg" x="307" y="5" width="57" height="16" rx="4"/><text class="k" x="311.5" y="18">false</text><text class="ar" x="354" y="16">▾</text></g>
<g transform="translate(38,2933)"><rect class="st" width="282" height="26"/><text x="9" y="18">set</text><rect class="fst" x="38" y="5" width="121" height="16" rx="4"/><text class="k" x="42.5" y="18">SERVICELIST</text><text class="ar" x="149" y="16">▾</text><text x="164" y="18">.</text><rect class="fst" x="173.6" y="5" width="69" height="16" rx="4"/><text class="k" x="178" y="18">Visible</text><text class="ar" x="232.6" y="16">▾</text><text x="251.5" y="18">to</text><rect class="lg" x="282" width="63" height="26"/><rect class="flg" x="287.4" y="5" width="51" height="16" rx="4"/><text class="k" x="292" y="18">true</text><text class="ar" x="328.4" y="16">▾</text></g>

<!-- ===== L: ADD_MORE.Click ===== -->
<path class="ev" d="M0 3004a8 8 0 0 1 8-8H215V3022H38V3075H215V3087H8a8 8 0 0 1-8-8Z"/>
<text x="10" y="3014">when</text>
<rect class="fev" x="54" y="3001" width="109" height="16" rx="4"/><text class="k" x="58.5" y="3014">ADD_MORE</text><text class="ar" x="153" y="3012">▾</text>
<text x="168.5" y="3014">.Click</text>
<text x="10" y="3040">do</text>
<g transform="translate(38,3022)"><rect class="st" width="240" height="26"/><text x="9" y="18">set</text><rect class="fst" x="38" y="5" width="77" height="16" rx="4"/><text class="k" x="42.5" y="18">creation</text><text class="ar" x="105" y="16">▾</text><text x="120.5" y="18">.</text><rect class="fst" x="130.5" y="5" width="69" height="16" rx="4"/><text class="k" x="135" y="18">Visible</text><text class="ar" x="189.5" y="16">▾</text><text x="208.4" y="18">to</text><rect class="lg" x="240" width="62" height="26"/><rect class="flg" x="245.4" y="5" width="50.6" height="16" rx="4"/><text class="k" x="250" y="18">true</text><text class="ar" x="286" y="16">▾</text></g>
<g transform="translate(38,3048)"><rect class="st" width="347" height="27"/><text x="9" y="18">set</text><rect class="fst" x="38" y="5" width="185" height="16" rx="4"/><text class="k" x="42.5" y="18">HorizontalArrangement8</text><text class="ar" x="213" y="16">▾</text><text x="227" y="18">.</text><rect class="fst" x="238" y="5" width="68" height="16" rx="4"/><text class="k" x="242.5" y="18">Visible</text><text class="ar" x="296" y="16">▾</text><text x="315" y="18">to</text><rect class="lg" x="347" width="68" height="27"/><rect class="flg" x="352" y="5" width="56.4" height="16" rx="4"/><text class="k" x="356.5" y="18">false</text><text class="ar" x="398.4" y="16">▾</text></g>

<!-- ===== M: servicebtnview.LongClick ===== -->
<path class="ev" d="M0 3120a8 8 0 0 1 8-8H261V3137H38V3215H261V3228H8a8 8 0 0 1-8-8Z"/>
<text x="10" y="3130">when</text>
<rect class="fev" x="54" y="3117" width="121.7" height="16" rx="4"/><text class="k" x="58.5" y="3130">servicebtnview</text><text class="ar" x="165.7" y="3128">▾</text>
<text x="181" y="3130">.LongClick</text>
<text x="10" y="3155">do</text>
<g transform="translate(38,3137)"><rect class="st" width="292" height="26"/><text x="9" y="18">set</text><rect class="fst" x="38" y="5" width="129.5" height="16" rx="4"/><text class="k" x="42.5" y="18">PRODUCTLIST</text><text class="ar" x="157.5" y="16">▾</text><text x="172" y="18">.</text><rect class="fst" x="182" y="5" width="68.5" height="16" rx="4"/><text class="k" x="186.5" y="18">Visible</text><text class="ar" x="240.5" y="16">▾</text><text x="259" y="18">to</text><rect class="lg" x="292" width="68" height="26"/><rect class="flg" x="297" y="5" width="56" height="16" rx="4"/><text class="k" x="301.5" y="18">false</text><text class="ar" x="343" y="16">▾</text></g>
<g transform="translate(38,3163)"><rect class="st" width="302" height="26"/><text x="9" y="18">set</text><rect class="fst" x="38" y="5" width="139.5" height="16" rx="4"/><text class="k" x="42.5" y="18">RESOURCELIST</text><text class="ar" x="167.5" y="16">▾</text><text x="182" y="18">.</text><rect class="fst" x="192" y="5" width="69" height="16" rx="4"/><text class="k" x="196.5" y="18">Visible</text><text class="ar" x="251" y="16">▾</text><text x="270" y="18">to</text><rect class="lg" x="302" width="69" height="26"/><rect class="flg" x="307" y="5" width="57" height="16" rx="4"/><text class="k" x="311.5" y="18">false</text><text class="ar" x="354" y="16">▾</text></g>
<g transform="translate(38,3189)"><rect class="st" width="282" height="26"/><text x="9" y="18">set</text><rect class="fst" x="38" y="5" width="121" height="16" rx="4"/><text class="k" x="42.5" y="18">SERVICELIST</text><text class="ar" x="149" y="16">▾</text><text x="164" y="18">.</text><rect class="fst" x="173.6" y="5" width="69" height="16" rx="4"/><text class="k" x="178" y="18">Visible</text><text class="ar" x="232.6" y="16">▾</text><text x="251.5" y="18">to</text><rect class="lg" x="282" width="69" height="26"/><rect class="flg" x="287.4" y="5" width="57" height="16" rx="4"/><text class="k" x="292" y="18">false</text><text class="ar" x="334.4" y="16">▾</text></g>

<!-- ===== N: TimePicker1.AfterTimeSet ===== -->
<path class="ev" d="M0 3261a8 8 0 0 1 8-8H266V3278H38V3384H266V3396H8a8 8 0 0 1-8-8Z"/>
<text x="10" y="3271">when</text>
<rect class="fev" x="54" y="3258" width="106" height="16" rx="4"/><text class="k" x="58.5" y="3271">TimePicker1</text><text class="ar" x="150" y="3269">▾</text>
<text x="166" y="3271">.AfterTimeSet</text>
<text x="10" y="3296">do</text>
<rect class="st" x="38" y="3278" width="252.6" height="106"/>
<text x="47" y="3296">set</text>
<rect class="fst" x="76" y="3283" width="106" height="16" rx="4"/><text class="k" x="80.5" y="3296">TimePicker1</text><text class="ar" x="172" y="3294">▾</text>
<text x="187" y="3296">.</text>
<rect class="fst" x="198" y="3283" width="52" height="16" rx="4"/><text class="k" x="202.5" y="3296">Text</text><text class="ar" x="240" y="3294">▾</text>
<text x="258.6" y="3296">to</text>
<rect class="tx" x="290.6" y="3278" width="78.4" height="106"/>
<rect class="gj" x="301" y="3283" width="16" height="17" rx="3"/><circle class="gc" cx="309" cy="3291.5" r="3.5"/>
<text x="327" y="3296">join</text>
<g transform="translate(369,3278)"><rect class="gt" width="190.7" height="27"/><rect class="fgt" x="6.7" y="5" width="105" height="16" rx="4"/><text class="k" x="11.2" y="18">TimePicker1</text><text class="ar" x="101.7" y="16">▾</text><text x="116" y="18">.</text><rect class="fgt" x="127" y="5" width="56.5" height="16" rx="4"/><text class="k" x="131.5" y="18">Hour</text><text class="ar" x="173.5" y="16">▾</text></g>
<g transform="translate(369,3305)"><rect class="tx" width="55" height="26"/><text class="q" x="9" y="15">“</text><rect class="ftx" x="20.5" y="5" width="14" height="16" rx="4"/><text class="q" x="38" y="15">”</text></g>
<g transform="translate(369,3331)"><rect class="gt" width="202.8" height="26"/><rect class="fgt" x="6.7" y="5" width="105" height="16" rx="4"/><text class="k" x="11.2" y="18">TimePicker1</text><text class="ar" x="101.7" y="16">▾</text><text x="116" y="18">.</text><rect class="fgt" x="127" y="5" width="68.6" height="16" rx="4"/><text class="k" x="131.5" y="18">Minute</text><text class="ar" x="185.6" y="16">▾</text></g>
<g transform="translate(369,3357)"><rect class="tx" width="55" height="27"/><text class="q" x="9" y="15">“</text><rect class="ftx" x="20.5" y="5" width="14" height="16" rx="4"/><text class="q" x="38" y="15">”</text></g>

<!-- ===== O: resourcebuttonview.Click ===== -->
<path class="ev" d="M0 3429a8 8 0 0 1 8-8H259.7V3447H38V3525H259.7V3538H8a8 8 0 0 1-8-8Z"/>
<text x="10" y="3439">when</text>
<rect class="fev" x="54" y="3426" width="153" height="16" rx="4"/><text class="k" x="58.5" y="3439">resourcebuttonview</text><text class="ar" x="197" y="3437">▾</text>
<text x="212.7" y="3439">.Click</text>
<text x="10" y="3465">do</text>
<g transform="translate(38,3447)"><rect class="st" width="292" height="26"/><text x="9" y="18">set</text><rect class="fst" x="38" y="5" width="129.5" height="16" rx="4"/><text class="k" x="42.5" y="18">PRODUCTLIST</text><text class="ar" x="157.5" y="16">▾</text><text x="172" y="18">.</text><rect class="fst" x="182" y="5" width="68.5" height="16" rx="4"/><text class="k" x="186.5" y="18">Visible</text><text class="ar" x="240.5" y="16">▾</text><text x="259" y="18">to</text><rect class="lg" x="292" width="68" height="26"/><rect class="flg" x="297" y="5" width="56" height="16" rx="4"/><text class="k" x="301.5" y="18">false</text><text class="ar" x="343" y="16">▾</text></g>
<g transform="translate(38,3473)"><rect class="st" width="302" height="26"/><text x="9" y="18">set</text><rect class="fst" x="38" y="5" width="139.5" height="16" rx="4"/><text class="k" x="42.5" y="18">RESOURCELIST</text><text class="ar" x="167.5" y="16">▾</text><text x="182" y="18">.</text><rect class="fst" x="192" y="5" width="69" height="16" rx="4"/><text class="k" x="196.5" y="18">Visible</text><text class="ar" x="251" y="16">▾</text><text x="270" y="18">to</text><rect class="lg" x="302" width="62" height="26"/><rect class="flg" x="307" y="5" width="50" height="16" rx="4"/><text class="k" x="311.5" y="18">true</text><text class="ar" x="347" y="16">▾</text></g>
<g transform="translate(38,3499)"><rect class="st" width="282" height="26"/><text x="9" y="18">set</text><rect class="fst" x="38" y="5" width="121" height="16" rx="4"/><text class="k" x="42.5" y="18">SERVICELIST</text><text class="ar" x="149" y="16">▾</text><text x="164" y="18">.</text><rect class="fst" x="173.6" y="5" width="69" height="16" rx="4"/><text class="k" x="178" y="18">Visible</text><text class="ar" x="232.6" y="16">▾</text><text x="251.5" y="18">to</text><rect class="lg" x="282" width="69" height="26"/><rect class="flg" x="287.4" y="5" width="57" height="16" rx="4"/><text class="k" x="292" y="18">false</text><text class="ar" x="334.4" y="16">▾</text></g>

<!-- ===== P: resourcebuttonview.LongClick ===== -->
<path class="ev" d="M0 3570a8 8 0 0 1 8-8H291.7V3587H38V3665H291.7V3678H8a8 8 0 0 1-8-8Z"/>
<text x="10" y="3580">when</text>
<rect class="fev" x="54" y="3567" width="153" height="16" rx="4"/><text class="k" x="58.5" y="3580">resourcebuttonview</text><text class="ar" x="197" y="3578">▾</text>
<text x="212.7" y="3580">.LongClick</text>
<text x="10" y="3605">do</text>
<g transform="translate(38,3587)"><rect class="st" width="292" height="26"/><text x="9" y="18">set</text><rect class="fst" x="38" y="5" width="129.5" height="16" rx="4"/><text class="k" x="42.5" y="18">PRODUCTLIST</text><text class="ar" x="157.5" y="16">▾</text><text x="172" y="18">.</text><rect class="fst" x="182" y="5" width="68.5" height="16" rx="4"/><text class="k" x="186.5" y="18">Visible</text><text class="ar" x="240.5" y="16">▾</text><text x="259" y="18">to</text><rect class="lg" x="292" width="68" height="26"/><rect class="flg" x="297" y="5" width="56" height="16" rx="4"/><text class="k" x="301.5" y="18">false</text><text class="ar" x="343" y="16">▾</text></g>
<g transform="translate(38,3613)"><rect class="st" width="302" height="26"/><text x="9" y="18">set</text><rect class="fst" x="38" y="5" width="139.5" height="16" rx="4"/><text class="k" x="42.5" y="18">RESOURCELIST</text><text class="ar" x="167.5" y="16">▾</text><text x="182" y="18">.</text><rect class="fst" x="192" y="5" width="69" height="16" rx="4"/><text class="k" x="196.5" y="18">Visible</text><text class="ar" x="251" y="16">▾</text><text x="270" y="18">to</text><rect class="lg" x="302" width="69" height="26"/><rect class="flg" x="307" y="5" width="57" height="16" rx="4"/><text class="k" x="311.5" y="18">false</text><text class="ar" x="354" y="16">▾</text></g>
<g transform="translate(38,3639)"><rect class="st" width="282" height="26"/><text x="9" y="18">set</text><rect class="fst" x="38" y="5" width="121" height="16" rx="4"/><text class="k" x="42.5" y="18">SERVICELIST</text><text class="ar" x="149" y="16">▾</text><text x="164" y="18">.</text><rect class="fst" x="173.6" y="5" width="69" height="16" rx="4"/><text class="k" x="178" y="18">Visible</text><text class="ar" x="232.6" y="16">▾</text><text x="251.5" y="18">to</text><rect class="lg" x="282" width="69" height="26"/><rect class="flg" x="287.4" y="5" width="57" height="16" rx="4"/><text class="k" x="292" y="18">false</text><text class="ar" x="334.4" y="16">▾</text></g>

<!-- ===== Q: cloudproduct.GotValue ===== -->
<path class="ev" d="M0 3710a8 8 0 0 1 8-8H244V3754H38V3807H244V3819H8a8 8 0 0 1-8-8Z"/>
<text x="10" y="3720">when</text>
<rect class="fev" x="54" y="3707" width="110" height="16" rx="4"/><text class="k" x="58.5" y="3720">cloudproduct</text><text class="ar" x="154" y="3718">▾</text>
<text x="169.6" y="3720">.GotValue</text>
<rect class="pm" x="24" y="3733" width="31" height="17" rx="4"/><text class="k" x="29" y="3746">tag</text>
<rect class="pm" x="78" y="3733" width="46" height="17" rx="4"/><text class="k" x="83" y="3746">value</text>
<text x="10" y="3772">do</text>
<g transform="translate(38,3754)"><rect class="vr" width="257.6" height="27"/><text x="9" y="18">set</text><rect class="fvr" x="33.8" y="5" width="186.8" height="16" rx="4"/><text class="k" x="38.3" y="18">global Product_inventory</text><text class="ar" x="210.6" y="16">▾</text><text x="226" y="18">to</text><rect class="vr" x="257.6" width="102.2" height="27"/><text x="267.5" y="18">get</text><rect class="fvr" x="293.5" y="5" width="59.5" height="16" rx="4"/><text class="k" x="298" y="18">value</text><text class="ar" x="343" y="16">▾</text></g>
<g transform="translate(38,3781)"><rect class="st" width="302" height="26"/><text x="9" y="18">set</text><rect class="fst" x="38" y="5" width="122" height="16" rx="4"/><text class="k" x="42.5" y="18">productlistview</text><text class="ar" x="150" y="16">▾</text><text x="166" y="18">.</text><rect class="fst" x="175" y="5" width="86.5" height="16" rx="4"/><text class="k" x="179.5" y="18">Elements</text><text class="ar" x="251" y="16">▾</text><text x="270" y="18">to</text><rect class="vr" x="302" width="229" height="26"/><text x="312" y="18">get</text><rect class="fvr" x="338" y="5" width="186" height="16" rx="4"/><text class="k" x="342.5" y="18">global Product_inventory</text><text class="ar" x="514" y="16">▾</text></g>

<!-- ===== R: DatePicker1.AfterDateSet ===== -->
<path class="ev" d="M0 3851a8 8 0 0 1 8-8H264V3869H38V4000H264V4013H8a8 8 0 0 1-8-8Z"/>
<text x="10" y="3861">when</text>
<rect class="fev" x="54" y="3848" width="106" height="16" rx="4"/><text class="k" x="58.5" y="3861">DatePicker1</text><text class="ar" x="150" y="3859">▾</text>
<text x="166" y="3861">.AfterDateSet</text>
<text x="10" y="3887">do</text>
<rect class="st" x="38" y="3869" width="251.5" height="131"/>
<text x="47" y="3887">set</text>
<rect class="fst" x="76" y="3874" width="105" height="16" rx="4"/><text class="k" x="80.5" y="3887">DatePicker1</text><text class="ar" x="171" y="3885">▾</text>
<text x="186" y="3887">.</text>
<rect class="fst" x="196.7" y="3874" width="52" height="16" rx="4"/><text class="k" x="201.2" y="3887">Text</text><text class="ar" x="238.7" y="3885">▾</text>
<text x="257.5" y="3887">to</text>
<rect class="tx" x="289.5" y="3869" width="78.5" height="131"/>
<rect class="gj" x="300" y="3874" width="16" height="17" rx="3"/><circle class="gc" cx="308" cy="3882.5" r="3.5"/>
<text x="326" y="3887">join</text>
<g transform="translate(368,3869)"><rect class="gt" width="183.4" height="27"/><rect class="fgt" x="6.6" y="5" width="104.6" height="16" rx="4"/><text class="k" x="11" y="18">DatePicker1</text><text class="ar" x="101" y="16">▾</text><text x="115.5" y="18">.</text><rect class="fgt" x="125" y="5" width="53" height="16" rx="4"/><text class="k" x="129.5" y="18">Day</text><text class="ar" x="168" y="16">▾</text></g>
<g transform="translate(368,3896)"><rect class="tx" width="55" height="26"/><text class="q" x="9" y="15">“</text><rect class="ftx" x="20.5" y="5" width="14" height="16" rx="4"/><text class="q" x="38" y="15">”</text></g>
<g transform="translate(368,3922)"><rect class="gt" width="238" height="27"/><rect class="fgt" x="6.6" y="5" width="104.6" height="16" rx="4"/><text class="k" x="11" y="18">DatePicker1</text><text class="ar" x="101" y="16">▾</text><text x="115.5" y="18">.</text><rect class="fgt" x="125" y="5" width="106.5" height="16" rx="4"/><text class="k" x="129.5" y="18">MonthInText</text><text class="ar" x="221.5" y="16">▾</text></g>
<g transform="translate(368,3949)"><rect class="tx" width="55" height="26"/><text class="q" x="9" y="15">“</text><rect class="ftx" x="20.5" y="5" width="14" height="16" rx="4"/><text class="q" x="38" y="15">”</text></g>
<g transform="translate(368,3975)"><rect class="gt" width="188" height="25"/><rect class="fgt" x="6.6" y="4.5" width="104.6" height="16" rx="4"/><text class="k" x="11" y="17.5">DatePicker1</text><text class="ar" x="101" y="15.5">▾</text><text x="115.5" y="17.5">.</text><rect class="fgt" x="125" y="4.5" width="56.7" height="16" rx="4"/><text class="k" x="129.5" y="17.5">Year</text><text class="ar" x="171.7" y="15.5">▾</text></g>

<!-- ===== S: cancel_btn.Click ===== -->
<path class="ev" d="M0 4046a8 8 0 0 1 8-8H203V4064H38V4168H203V4180H8a8 8 0 0 1-8-8Z"/>
<text x="10" y="4056">when</text>
<rect class="fev" x="54" y="4043" width="97" height="16" rx="4"/><text class="k" x="58.5" y="4056">cancel_btn</text><text class="ar" x="141" y="4054">▾</text>
<text x="156" y="4056">.Click</text>
<text x="10" y="4082">do</text>
<g transform="translate(38,4064)"><rect class="st" width="240" height="26"/><text x="9" y="18">set</text><rect class="fst" x="38" y="5" width="77" height="16" rx="4"/><text class="k" x="42.5" y="18">creation</text><text class="ar" x="105" y="16">▾</text><text x="120.5" y="18">.</text><rect class="fst" x="130.5" y="5" width="69" height="16" rx="4"/><text class="k" x="135" y="18">Visible</text><text class="ar" x="189.5" y="16">▾</text><text x="208.4" y="18">to</text><rect class="lg" x="240" width="68" height="26"/><rect class="flg" x="245.4" y="5" width="56.4" height="16" rx="4"/><text class="k" x="250" y="18">false</text><text class="ar" x="291.8" y="16">▾</text></g>
<g transform="translate(38,4090)"><rect class="st" width="224" height="26"/><text x="9" y="18">set</text><rect class="fst" x="38" y="5" width="77.6" height="16" rx="4"/><text class="k" x="42.5" y="18">nametxt</text><text class="ar" x="105.6" y="16">▾</text><text x="121" y="18">.</text><rect class="fst" x="130.5" y="5" width="52.5" height="16" rx="4"/><text class="k" x="135" y="18">Text</text><text class="ar" x="173" y="16">▾</text><text x="192" y="18">to</text><rect class="tx" x="224" width="54.6" height="26"/><text class="q" x="233" y="15">“</text><rect class="ftx" x="244" y="5" width="15" height="16" rx="4"/><text class="q" x="263" y="15">”</text></g>
<g transform="translate(38,4116)"><rect class="st" width="221.7" height="26"/><text x="9" y="18">set</text><rect class="fst" x="38" y="5" width="74.8" height="16" rx="4"/><text class="k" x="42.5" y="18">stocktxt</text><text class="ar" x="102.8" y="16">▾</text><text x="117.5" y="18">.</text><rect class="fst" x="127.7" y="5" width="53" height="16" rx="4"/><text class="k" x="132.2" y="18">Text</text><text class="ar" x="170.7" y="16">▾</text><text x="189.6" y="18">to</text><rect class="tx" x="221.7" width="54.7" height="26"/><text class="q" x="230.5" y="15">“</text><rect class="ftx" x="241.5" y="5" width="15" height="16" rx="4"/><text class="q" x="260.5" y="15">”</text></g>
<g transform="translate(38,4142)"><rect class="st" width="219.5" height="26"/><text x="9" y="18">set</text><rect class="fst" x="38" y="5" width="72.6" height="16" rx="4"/><text class="k" x="42.5" y="18">pricetxt</text><text class="ar" x="100.6" y="16">▾</text><text x="115.5" y="18">.</text><rect class="fst" x="125.5" y="5" width="52.5" height="16" rx="4"/><text class="k" x="130" y="18">Text</text><text class="ar" x="168" y="16">▾</text><text x="186.9" y="18">to</text><rect class="tx" x="219.5" width="54.5" height="26"/><text class="q" x="228.5" y="15">“</text><rect class="ftx" x="239" y="5" width="15" height="16" rx="4"/><text class="q" x="258" y="15">”</text></g>

<!-- ===== T: cloudservice.GotValue ===== -->
<path class="ev" d="M0 4212a8 8 0 0 1 8-8H241.4V4256H38V4309H241.4V4321H8a8 8 0 0 1-8-8Z"/>
<text x="10" y="4222">when</text>
<rect class="fev" x="54" y="4209" width="107" height="16" rx="4"/><text class="k" x="58.5" y="4222">cloudservice</text><text class="ar" x="151" y="4220">▾</text>
<text x="166.9" y="4222">.GotValue</text>
<rect class="pm" x="24" y="4235" width="31" height="17" rx="4"/><text class="k" x="29" y="4248">tag</text>
<rect class="pm" x="78" y="4235" width="46" height="17" rx="4"/><text class="k" x="83" y="4248">value</text>
<text x="10" y="4274">do</text>
<g transform="translate(38,4256)"><rect class="vr" width="256" height="27"/><text x="9" y="18">set</text><rect class="fvr" x="33.8" y="5" width="185.7" height="16" rx="4"/><text class="k" x="38.3" y="18">global Service_inventory</text><text class="ar" x="209.5" y="16">▾</text><text x="224.4" y="18">to</text><rect class="vr" x="256" width="102.7" height="27"/><text x="265.9" y="18">get</text><rect class="fvr" x="292" y="5" width="60" height="16" rx="4"/><text class="k" x="296.5" y="18">value</text><text class="ar" x="342" y="16">▾</text></g>
<g transform="translate(38,4283)"><rect class="st" width="299.6" height="26"/><text x="9" y="18">set</text><rect class="fst" x="38" y="5" width="119.6" height="16" rx="4"/><text class="k" x="42.5" y="18">servicelistview</text><text class="ar" x="147.6" y="16">▾</text><text x="163" y="18">.</text><rect class="fst" x="172" y="5" width="87" height="16" rx="4"/><text class="k" x="176.5" y="18">Elements</text><text class="ar" x="249" y="16">▾</text><text x="267.5" y="18">to</text><rect class="vr" x="299.6" width="227" height="26"/><text x="309.6" y="18">get</text><rect class="fvr" x="336" y="5" width="185" height="16" rx="4"/><text class="k" x="340.5" y="18">global Service_inventory</text><text class="ar" x="511" y="16">▾</text></g>

<!-- ===== U: cloudresource.GotValue ===== -->
<path class="ev" d="M0 4353a8 8 0 0 1 8-8H252.5V4398H38V4450H252.5V4463H8a8 8 0 0 1-8-8Z"/>
<text x="10" y="4363">when</text>
<rect class="fev" x="54" y="4350" width="118" height="16" rx="4"/><text class="k" x="58.5" y="4363">cloudresource</text><text class="ar" x="162" y="4361">▾</text>
<text x="177.3" y="4363">.GotValue</text>
<rect class="pm" x="24" y="4377" width="31" height="17" rx="4"/><text class="k" x="29" y="4390">tag</text>
<rect class="pm" x="78" y="4377" width="46" height="17" rx="4"/><text class="k" x="83" y="4390">value</text>
<text x="10" y="4416">do</text>
<g transform="translate(38,4398)"><rect class="vr" width="270.3" height="26"/><text x="9" y="18">set</text><rect class="fvr" x="33.8" y="5" width="200" height="16" rx="4"/><text class="k" x="38.3" y="18">global Resource_Inventory</text><text class="ar" x="223.8" y="16">▾</text><text x="239.3" y="18">to</text><rect class="vr" x="270.3" width="103.3" height="26"/><text x="280.8" y="18">get</text><rect class="fvr" x="306.8" y="5" width="60.2" height="16" rx="4"/><text class="k" x="311.3" y="18">value</text><text class="ar" x="357" y="16">▾</text></g>
<g transform="translate(38,4424)"><rect class="st" width="299.6" height="26"/><text x="9" y="18">set</text><rect class="fst" x="38" y="5" width="119.6" height="16" rx="4"/><text class="k" x="42.5" y="18">servicelistview</text><text class="ar" x="147.6" y="16">▾</text><text x="163" y="18">.</text><rect class="fst" x="172" y="5" width="87" height="16" rx="4"/><text class="k" x="176.5" y="18">Elements</text><text class="ar" x="249" y="16">▾</text><text x="267.5" y="18">to</text><rect class="vr" x="299.6" width="241.4" height="26"/><text x="309.6" y="18">get</text><rect class="fvr" x="335.5" y="5" width="199.5" height="16" rx="4"/><text class="k" x="340" y="18">global Resource_Inventory</text><text class="ar" x="525" y="16">▾</text></g>

<!-- ===== V: timestamp.Click ===== -->
<path class="ev" d="M0 4494a8 8 0 0 1 8-8H199.4V4512H38V4565H199.4V4578H8a8 8 0 0 1-8-8Z"/>
<text x="10" y="4504">when</text>
<rect class="fev" x="54" y="4491" width="93.5" height="16" rx="4"/><text class="k" x="58.5" y="4504">timestamp</text><text class="ar" x="137.5" y="4502">▾</text>
<text x="153" y="4504">.Click</text>
<text x="10" y="4530">do</text>
<rect class="cl" x="38" y="4512" width="256.5" height="27"/>
<text x="47" y="4530">call</text>
<rect class="fcl" x="79" y="4517" width="106" height="16" rx="4"/><text class="k" x="83.5" y="4530">TimePicker1</text><text class="ar" x="175" y="4528">▾</text>
<text x="190.6" y="4530">.LaunchPicker</text>
<rect class="cl" x="38" y="4539" width="255.4" height="26"/>
<text x="47" y="4557">call</text>
<rect class="fcl" x="79" y="4544" width="105" height="16" rx="4"/><text class="k" x="83.5" y="4557">DatePicker1</text><text class="ar" x="174" y="4555">▾</text>
<text x="189.5" y="4557">.LaunchPicker</text>

<!-- ===== W: deletebtn.Click ===== -->
<path class="ev" d="M0 4609a8 8 0 0 1 8-8H192V4628H38V4862H192V4874H8a8 8 0 0 1-8-8Z"/>
<text x="10" y="4619">when</text>
<rect class="fev" x="54" y="4606" width="86" height="16" rx="4"/><text class="k" x="58.5" y="4619">deletebtn</text><text class="ar" x="130" y="4617">▾</text>
<text x="145.3" y="4619">.Click</text>
<text x="10" y="4646">do</text>
<rect class="cl" x="38" y="4628" width="236.6" height="52"/>
<text x="47" y="4646">call</text>
<rect class="fcl" x="79" y="4633" width="109" height="16" rx="4"/><text class="k" x="83.5" y="4646">cloudproduct</text><text class="ar" x="178" y="4644">▾</text>
<text x="193.4" y="4646">.ClearTag</text>
<text class="e" x="257" y="4672">tag</text>
<g transform="translate(274.6,4654)"><rect class="gt" width="234.8" height="26"/><rect class="fgt" x="6" y="5" width="121.3" height="16" rx="4"/><text class="k" x="10.5" y="18">productlistview</text><text class="ar" x="117.3" y="16">▾</text><text x="131" y="18">.</text><rect class="fgt" x="142.4" y="5" width="85.8" height="16" rx="4"/><text class="k" x="146.9" y="18">Selection</text><text class="ar" x="218.2" y="16">▾</text></g>
<rect class="cl" x="38" y="4680" width="234.4" height="52"/>
<text x="47" y="4698">call</text>
<rect class="fcl" x="79" y="4685" width="107" height="16" rx="4"/><text class="k" x="83.5" y="4698">cloudservice</text><text class="ar" x="176" y="4696">▾</text>
<text x="190.6" y="4698">.ClearTag</text>
<text class="e" x="254" y="4724">tag</text>
<g transform="translate(272.4,4706)"><rect class="gt" width="232" height="26"/><rect class="fgt" x="5.6" y="5" width="119" height="16" rx="4"/><text class="k" x="10.1" y="18">servicelistview</text><text class="ar" x="114.6" y="16">▾</text><text x="128.6" y="18">.</text><rect class="fgt" x="139.6" y="5" width="86" height="16" rx="4"/><text class="k" x="144.1" y="18">Selection</text><text class="ar" x="215.6" y="16">▾</text></g>
<rect class="cl" x="38" y="4732" width="244.9" height="52"/>
<text x="47" y="4750">call</text>
<rect class="fcl" x="79" y="4737" width="117" height="16" rx="4"/><text class="k" x="83.5" y="4750">cloudresource</text><text class="ar" x="186" y="4748">▾</text>
<text x="201.7" y="4750">.ClearTag</text>
<text class="e" x="264.6" y="4776">tag</text>
<g transform="translate(282.9,4758)"><rect class="gt" width="242" height="26"/><rect class="fgt" x="5.5" y="5" width="130.4" height="16" rx="4"/><text class="k" x="10" y="18">resourcelistview</text><text class="ar" x="125.9" y="16">▾</text><text x="140" y="18">.</text><rect class="fgt" x="150.8" y="5" width="85.6" height="16" rx="4"/><text class="k" x="155.3" y="18">Selection</text><text class="ar" x="226.4" y="16">▾</text></g>
<g transform="translate(38,4784)"><rect class="st" width="302" height="26"/><text x="9" y="18">set</text><rect class="fst" x="38" y="5" width="122" height="16" rx="4"/><text class="k" x="42.5" y="18">productlistview</text><text class="ar" x="150" y="16">▾</text><text x="166" y="18">.</text><rect class="fst" x="175" y="5" width="86.5" height="16" rx="4"/><text class="k" x="179.5" y="18">Elements</text><text class="ar" x="251" y="16">▾</text><text x="270" y="18">to</text><rect class="vr" x="302" width="229" height="26"/><text x="312" y="18">get</text><rect class="fvr" x="338" y="5" width="186" height="16" rx="4"/><text class="k" x="342.5" y="18">global Product_inventory</text><text class="ar" x="514" y="16">▾</text></g>
<g transform="translate(38,4810)"><rect class="st" width="299.6" height="26"/><text x="9" y="18">set</text><rect class="fst" x="38" y="5" width="119.6" height="16" rx="4"/><text class="k" x="42.5" y="18">servicelistview</text><text class="ar" x="147.6" y="16">▾</text><text x="163" y="18">.</text><rect class="fst" x="172" y="5" width="87" height="16" rx="4"/><text class="k" x="176.5" y="18">Elements</text><text class="ar" x="249" y="16">▾</text><text x="267.5" y="18">to</text><rect class="vr" x="299.6" width="227" height="26"/><text x="309.6" y="18">get</text><rect class="fvr" x="336" y="5" width="185" height="16" rx="4"/><text class="k" x="340.5" y="18">global Service_inventory</text><text class="ar" x="511" y="16">▾</text></g>
<g transform="translate(38,4836)"><rect class="st" width="299.6" height="26"/><text x="9" y="18">set</text><rect class="fst" x="38" y="5" width="119.6" height="16" rx="4"/><text class="k" x="42.5" y="18">servicelistview</text><text class="ar" x="147.6" y="16">▾</text><text x="163" y="18">.</text><rect class="fst" x="172" y="5" width="87" height="16" rx="4"/><text class="k" x="176.5" y="18">Elements</text><text class="ar" x="249" y="16">▾</text><text x="267.5" y="18">to</text><rect class="vr" x="299.6" width="241.4" height="26"/><text x="309.6" y="18">get</text><rect class="fvr" x="335.5" y="5" width="199.5" height="16" rx="4"/><text class="k" x="340" y="18">global Resource_Inventory</text><text class="ar" x="525" y="16">▾</text></g>

</svg>
</body></html>
